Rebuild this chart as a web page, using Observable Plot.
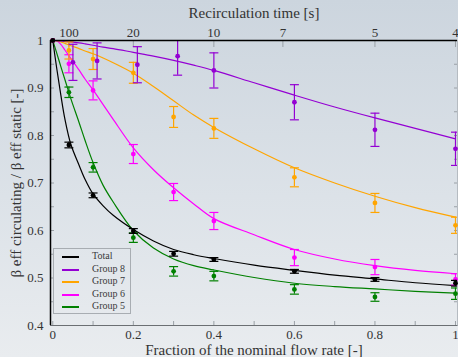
<!DOCTYPE html>
<html>
<head>
<meta charset="utf-8">
<script src="https://cdn.jsdelivr.net/npm/d3@7"></script>
<script src="https://cdn.jsdelivr.net/npm/@observablehq/plot@0.6"></script>
<style>
  html, body { margin: 0; padding: 0; }
  body {
    width: 458px; height: 357px; overflow: hidden; position: relative;
    background: linear-gradient(to bottom, #ccd5de 0%, #dce2e8 55%, #e9ecef 100%);
    font-family: "Liberation Serif", "Times New Roman", serif;
  }
  #chart { position: absolute; left: 0; top: 0; }
  #legend {
    position: absolute; left: 53px; top: 248px; width: 78px; height: 66px;
    box-sizing: border-box; border: 1px solid #a8adb2;
    font-size: 10px; color: #3a3a3a;
  }
  #legend .row { position: absolute; left: 0; height: 12px; width: 100%; }
  #legend .swatch { position: absolute; left: 8px; top: 5px; width: 17px; height: 2px; }
  #legend .name { position: absolute; left: 38px; top: -1px; white-space: nowrap; }
</style>
</head>
<body>
<div id="chart"></div>
<div id="legend"></div>
<script>
// Measured flow fractions (Group 8 was measured at slightly shifted points)
const flow = [0, 0.04, 0.1, 0.2, 0.3, 0.4, 0.6, 0.8, 1.0];
const flowGroup8 = [0, 0.05, 0.11, 0.21, 0.31, 0.4, 0.6, 0.8, 1.0];

// Measured ratios and their uncertainties
const totalVal  = [1, 0.780, 0.674, 0.599, 0.551, 0.539, 0.514, 0.497, 0.489];
const totalErr  = [0, 0.006, 0.005, 0.005, 0.005, 0.004, 0.004, 0.004, 0.006];
const group8Val = [1, 0.954, 0.957, 0.949, 0.967, 0.937, 0.870, 0.812, 0.772];
const group8Err = [0, 0.038, 0.038, 0.038, 0.040, 0.037, 0.037, 0.035, 0.035];
const group7Val = [1, 0.979, 0.961, 0.932, 0.839, 0.815, 0.712, 0.658, 0.611];
const group7Err = [0, 0.018, 0.022, 0.022, 0.022, 0.021, 0.020, 0.020, 0.017];
const group6Val = [1, 0.951, 0.895, 0.761, 0.681, 0.620, 0.543, 0.523, 0.497];
const group6Err = [0, 0.019, 0.020, 0.020, 0.018, 0.018, 0.017, 0.016, 0.012];
const group5Val = [1, 0.891, 0.733, 0.585, 0.514, 0.504, 0.476, 0.460, 0.467];
const group5Err = [0, 0.011, 0.010, 0.010, 0.010, 0.010, 0.010, 0.009, 0.012];

// Fitted model curves, sampled along the flow axis
const fitX = [0, 0.01, 0.02, 0.03, 0.045, 0.065, 0.08, 0.1, 0.125, 0.15, 0.2, 0.25, 0.3, 0.35, 0.4, 0.5, 0.6, 0.7, 0.8, 0.9, 1.0];
const fitTotal  = [1, 0.940, 0.885, 0.835, 0.781, 0.738, 0.708, 0.677, 0.652, 0.632, 0.602, 0.578, 0.560, 0.549, 0.541, 0.527, 0.516, 0.506, 0.498, 0.490, 0.484];
const fitGroup8 = [1, 0.9995, 0.999, 0.998, 0.997, 0.995, 0.993, 0.990, 0.986, 0.983, 0.975, 0.967, 0.958, 0.948, 0.937, 0.911, 0.885, 0.860, 0.837, 0.815, 0.793];
const fitGroup7 = [1, 0.999, 0.997, 0.994, 0.989, 0.983, 0.978, 0.972, 0.963, 0.953, 0.931, 0.903, 0.873, 0.843, 0.817, 0.772, 0.732, 0.700, 0.672, 0.648, 0.628];
const fitGroup6 = [1, 0.999, 0.992, 0.980, 0.962, 0.938, 0.919, 0.896, 0.865, 0.834, 0.774, 0.728, 0.690, 0.656, 0.625, 0.591, 0.560, 0.540, 0.526, 0.516, 0.509];
const fitGroup5 = [1, 0.973, 0.945, 0.918, 0.877, 0.828, 0.790, 0.743, 0.695, 0.660, 0.600, 0.563, 0.540, 0.526, 0.517, 0.501, 0.489, 0.482, 0.477, 0.472, 0.468];

// Series names and colours (legend order)
const seriesNames  = ["Total", "Group 8", "Group 7", "Group 6", "Group 5"];
const seriesColors = ["#000000", "#9400d3", "#ffa500", "#ff00ff", "#008000"];

// Axis ticks
const xTicks = [0, 0.2, 0.4, 0.6, 0.8, 1];
const xMinor = [0, 0.1, 0.2, 0.3, 0.4, 0.5, 0.6, 0.7, 0.8, 0.9, 1];
const yTicks = [0.4, 0.5, 0.6, 0.7, 0.8, 0.9, 1];
const yMinor = [0.4, 0.45, 0.5, 0.55, 0.6, 0.65, 0.7, 0.75, 0.8, 0.85, 0.9, 0.95, 1];
const recircTimes = [100, 20, 10, 7, 5, 4];      // seconds
const recircAtNominal = 4;                       // recirculation time at full flow [s]

const series = [
  {x: flow,       y: totalVal,  e: totalErr,  fit: fitTotal},
  {x: flowGroup8, y: group8Val, e: group8Err, fit: fitGroup8},
  {x: flow,       y: group7Val, e: group7Err, fit: fitGroup7},
  {x: flow,       y: group6Val, e: group6Err, fit: fitGroup6},
  {x: flow,       y: group5Val, e: group5Err, fit: fitGroup5}
].map((s, k) => ({...s, name: seriesNames[k], color: seriesColors[k]}));

const topFrac = recircTimes.map(t => recircAtNominal / t);
const topLabel = new Map(topFrac.map((f, i) => [f, String(recircTimes[i])]));
const fmt = d => (d === 0 || d === 1) ? String(d) : d.toFixed(1);

// Horizontal cap drawn at the ends of each error bar
const cap = {draw(ctx) { ctx.moveTo(-4.5, 0); ctx.lineTo(4.5, 0); }};

const xDomain = [-0.0057, 1.005];
const marks = [];

// fitted curves, back to front (Total drawn last)
for (const s of [...series].reverse()) {
  const pts = fitX.map((x, i) => ({x, y: s.fit[i]}));
  marks.push(Plot.line(pts, {x: "x", y: "y", stroke: s.color, strokeWidth: 1.2, curve: "catmull-rom", clip: true}));
}
// measurements with error bars
for (const s of [...series].reverse()) {
  const rows = s.x.map((x, i) => ({x, y: s.y[i], lo: s.y[i] - s.e[i], hi: s.y[i] + s.e[i], e: s.e[i]}));
  const withErr = rows.filter(d => d.e > 0);
  marks.push(
    Plot.ruleX(withErr, {x: "x", y1: "lo", y2: "hi", stroke: s.color, strokeWidth: 1.2, clip: true}),
    Plot.dot(withErr, {x: "x", y: "hi", symbol: cap, r: 3, stroke: s.color, fill: "none", strokeWidth: 1.2, clip: true}),
    Plot.dot(withErr, {x: "x", y: "lo", symbol: cap, r: 3, stroke: s.color, fill: "none", strokeWidth: 1.2, clip: true}),
    Plot.dot(rows, {x: "x", y: "y", r: 2.4, fill: s.color, stroke: "none"})
  );
}

const chart = Plot.plot({
  width: 458,
  height: 357,
  marginLeft: 50,
  marginRight: 1,
  marginTop: 40,
  marginBottom: 32,
  style: {background: "transparent", fontFamily: "'Liberation Serif', 'Times New Roman', serif", fontSize: "13px", color: "#333", overflow: "visible"},
  x: {domain: xDomain},
  y: {domain: [0.4, 1]},
  marks: [
    // minor ticks pointing into the frame
    Plot.axisX({ticks: xMinor, tickSize: -4, fill: "none", stroke: "#9aa0a6", label: null}),
    Plot.axisY({ticks: yMinor, tickSize: -4, fill: "none", stroke: "#9aa0a6", label: null}),
    Plot.axisY({ticks: yMinor, anchor: "right", tickSize: -4, fill: "none", stroke: "#9aa0a6", label: null}),
    Plot.axisX({ticks: topFrac, anchor: "top", tickSize: -6, fill: "none", stroke: "#9aa0a6", label: null}),
    // tick labels
    Plot.axisX({ticks: xTicks, tickSize: 0, tickPadding: 4, tickFormat: fmt, fill: "#333", label: null}),
    Plot.axisY({ticks: yTicks, tickSize: 0, tickPadding: 7, tickFormat: fmt, fill: "#333", label: null}),
    Plot.axisX({ticks: topFrac, anchor: "top", tickSize: 0, tickPadding: 4, tickFormat: d => topLabel.get(d), fill: "#333", label: null}),
    // frame lines
    Plot.ruleY([0.4], {stroke: "#6b6f73", strokeWidth: 1}),
    Plot.ruleX([xDomain[1]], {stroke: "#b5bbc1", strokeWidth: 1}),
    ...marks,
    Plot.ruleX([xDomain[0]], {stroke: "#000", strokeWidth: 1.5}),
    Plot.ruleY([1], {stroke: "#000", strokeWidth: 1.6}),
    // axis titles
    Plot.text(["Fraction of the nominal flow rate [-]"], {frameAnchor: "bottom", textAnchor: "middle", lineAnchor: "middle", dy: 25, fontSize: 15, fill: "#333"}),
    Plot.text(["Recirculation time [s]"], {frameAnchor: "top", textAnchor: "middle", lineAnchor: "middle", dy: -27, fontSize: 15, fill: "#333"}),
    Plot.text(["β eff circulating / β eff static [-]"], {frameAnchor: "left", textAnchor: "middle", lineAnchor: "middle", dx: -34, rotate: -90, fontSize: 15, fill: "#333"})
  ]
});
document.getElementById("chart").appendChild(chart);

// legend box
const legend = document.getElementById("legend");
seriesNames.forEach((name, i) => {
  const row = document.createElement("div");
  row.className = "row";
  row.style.top = Math.round(2 + i * 12.5) + "px";
  const sw = document.createElement("div");
  sw.className = "swatch";
  sw.style.backgroundColor = seriesColors[i];
  const label = document.createElement("span");
  label.className = "name";
  label.textContent = name;
  row.appendChild(sw);
  row.appendChild(label);
  legend.appendChild(row);
});
</script>
</body>
</html>
